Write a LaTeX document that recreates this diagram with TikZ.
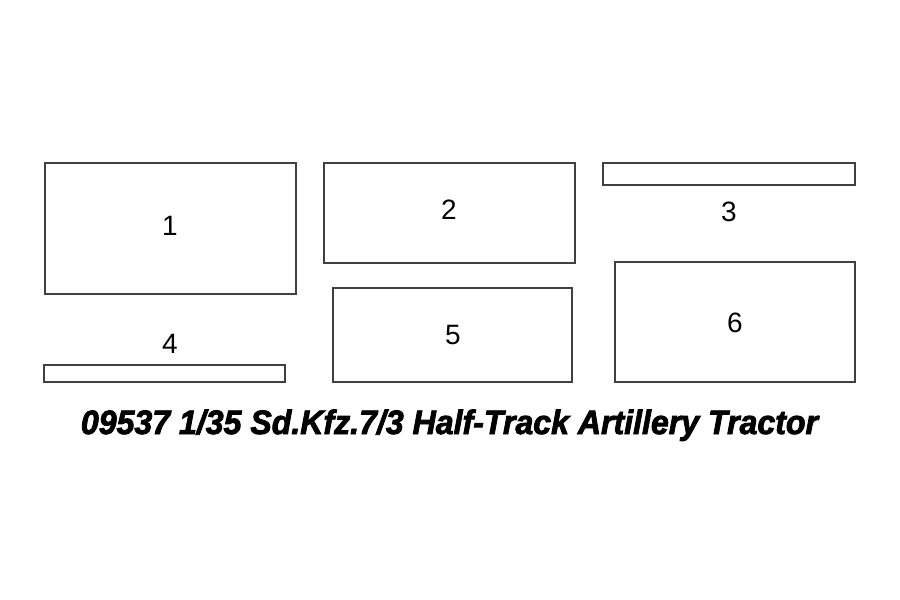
\documentclass[tikz,border=0pt]{standalone}
\usepackage{fontspec}
\setmainfont{Liberation Sans}
\newfontfamily\titlefont[FakeBold=2.5]{Liberation Sans}
\usepackage{graphicx}
\begin{document}
\begin{tikzpicture}[x=1pt,y=-1pt,
  part/.style={draw=black!75, line width=1.2pt, inner sep=0pt, fill=white},
  num/.style={font=\fontsize{28}{28}\selectfont, inner sep=0pt, anchor=base}]
\useasboundingbox (0,0) rectangle (900,600);
\fill[white] (0,0) rectangle (900,600);
% parts
\node[part, minimum width=251pt, minimum height=131pt] (p1) at (170.5,228.5) {};
\node[part, minimum width=251pt, minimum height=100pt] (p2) at (449.5,213) {};
\node[part, minimum width=252pt, minimum height=22pt] (p3) at (729,174) {};
\node[part, minimum width=241pt, minimum height=17pt] (p4) at (164.5,373.5) {};
\node[part, minimum width=239pt, minimum height=94pt] (p5) at (452.5,335) {};
\node[part, minimum width=240pt, minimum height=120pt] (p6) at (735,322) {};
% labels
\node[num] (l1) at (170,235) {1};
\node[num] (l2) at (449,219) {2};
\node[num] (l3) at (729,221) {3};
\node[num] (l4) at (170,353) {4};
\node[num] (l5) at (453,344) {5};
\node[num] (l6) at (735,332) {6};
% title
\node[inner sep=0pt, anchor=base] (title) at (449.5,434)
  {\resizebox{737pt}{24.5pt}{\titlefont\bfseries\itshape 09537 1/35 Sd.Kfz.7/3 Half-Track Artillery Tractor}};
\end{tikzpicture}
\end{document}
